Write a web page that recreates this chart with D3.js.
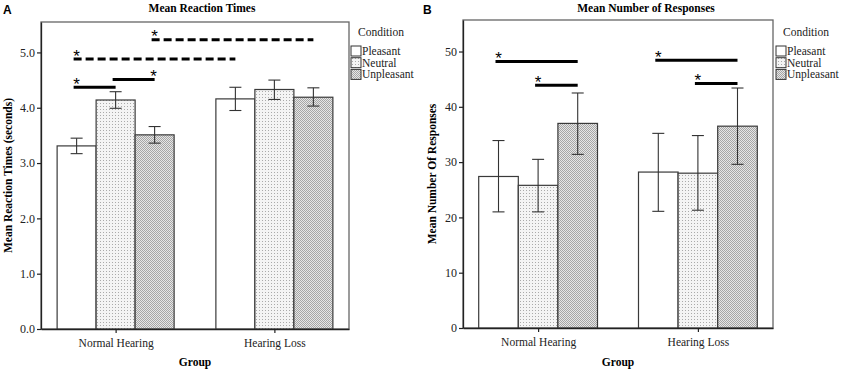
<!DOCTYPE html>
<html><head><meta charset="utf-8">
<script src="https://cdn.jsdelivr.net/npm/d3@7"></script>
<style>body{margin:0;background:#fff}svg{display:block}</style>
</head><body>
<svg id="c" width="843" height="372"></svg>
<script>
const groups = ["Normal Hearing", "Hearing Loss"];
const conditions = ["Pleasant", "Neutral", "Unpleasant"];

// Panel A: Mean Reaction Times (seconds)
const rtMean = [[3.31, 4.14, 3.51], [4.16, 4.33, 4.19]];
const rtLow  = [[3.17, 3.99, 3.36], [3.95, 4.15, 4.03]];
const rtHigh = [[3.45, 4.29, 3.66], [4.37, 4.50, 4.36]];
const rtTicks = [0, 1, 2, 3, 4, 5];
// significance: [groupFrom, condFrom, groupTo, condTo, y, dashed, starSide]
const rtSig = [
  [0, 0, 0, 1, 4.37, false, "left"],
  [0, 1, 0, 2, 4.51, false, "right"],
  [0, 0, 1, 0, 4.88, true, "left"],
  [0, 2, 1, 2, 5.23, true, "left"]
];

// Panel B: Mean Number of Responses
const nrMean = [[27.4, 25.8, 37.0], [28.2, 28.0, 36.5]];
const nrLow  = [[21.0, 21.0, 31.4], [21.1, 21.3, 29.6]];
const nrHigh = [[33.9, 30.5, 42.5], [35.2, 34.8, 43.4]];
const nrTicks = [0, 10, 20, 30, 40, 50];
const nrSig = [
  [0, 0, 0, 2, 48.2, false, "left"],
  [0, 1, 0, 2, 43.9, false, "left"],
  [1, 0, 1, 2, 48.4, false, "left"],
  [1, 1, 1, 2, 44.2, false, "left"]
];

const svg = d3.select("#c");
const serif = "'Liberation Serif', 'Times New Roman', serif";
const defs = svg.append("defs");

// Neutral: light dotted pattern
const pN = defs.append("pattern").attr("id", "pNeutral").attr("patternUnits", "userSpaceOnUse")
  .attr("width", 3).attr("height", 3);
pN.append("rect").attr("width", 3).attr("height", 3).attr("fill", "#f4f4f4");
pN.append("rect").attr("x", 1).attr("y", 1).attr("width", 1).attr("height", 1).attr("fill", "#aaaaaa");
// Unpleasant: checker pattern
const pU = defs.append("pattern").attr("id", "pUnpleasant").attr("patternUnits", "userSpaceOnUse")
  .attr("width", 2).attr("height", 2);
pU.append("rect").attr("width", 2).attr("height", 2).attr("fill", "#e6e6e6");
pU.append("rect").attr("width", 1).attr("height", 1).attr("fill", "#a6a6a6");
pU.append("rect").attr("x", 1).attr("y", 1).attr("width", 1).attr("height", 1).attr("fill", "#a6a6a6");

const fills = ["#ffffff", "url(#pNeutral)", "url(#pUnpleasant)"];

function panel(cfg) {
  const g = svg.append("g");
  const x0 = d3.scalePoint().domain(groups).range([cfg.left, cfg.right]).padding(0.47);
  const x1 = d3.scaleBand().domain(conditions).range([-cfg.bw * 1.5, cfg.bw * 1.5]);
  const y = d3.scaleLinear().domain([0, cfg.ymax]).range([cfg.bottom, cfg.top]);

  // frame
  g.append("rect").attr("x", cfg.left).attr("y", cfg.top)
    .attr("width", cfg.right - cfg.left).attr("height", cfg.bottom - cfg.top)
    .attr("fill", "none").attr("stroke", "#666").attr("stroke-width", 1.3);

  // bars
  groups.forEach((grp, gi) => {
    conditions.forEach((c, ci) => {
      const bx = x0(grp) + x1(c);
      g.append("rect").attr("x", bx).attr("y", y(cfg.mean[gi][ci]))
        .attr("width", x1.bandwidth()).attr("height", cfg.bottom - y(cfg.mean[gi][ci]))
        .attr("fill", fills[ci]).attr("stroke", "#3a3a3a").attr("stroke-width", 1.2);
    });
  });
  // error bars
  groups.forEach((grp, gi) => {
    conditions.forEach((c, ci) => {
      const cx = x0(grp) + x1(c) + x1.bandwidth() / 2;
      const yl = y(cfg.low[gi][ci]), yh = y(cfg.high[gi][ci]);
      g.append("line").attr("x1", cx).attr("x2", cx).attr("y1", yl).attr("y2", yh)
        .attr("stroke", "#333").attr("stroke-width", 1.1);
      [yl, yh].forEach(yy => g.append("line").attr("x1", cx - 6).attr("x2", cx + 6)
        .attr("y1", yy).attr("y2", yy).attr("stroke", "#333").attr("stroke-width", 1.1));
    });
  });

  // axes
  const ya = g.append("g").attr("transform", `translate(${cfg.left},0)`)
    .call(d3.axisLeft(y).tickValues(cfg.ticks).tickFormat(cfg.fmt).tickSize(4).tickSizeOuter(0));
  ya.attr("font-family", serif);
  ya.select(".domain").attr("stroke", "#222").attr("stroke-width", 1.3);
  ya.selectAll(".tick line").attr("stroke", "#222").attr("stroke-width", 1.2);
  ya.selectAll("text").attr("font-family", serif).attr("font-size", 12).attr("fill", "#222").attr("dx", 1);
  const xa = g.append("g").attr("transform", `translate(0,${cfg.bottom})`)
    .call(d3.axisBottom(x0).tickSize(4).tickSizeOuter(0));
  xa.attr("font-family", serif);
  xa.select(".domain").attr("stroke", "#222").attr("stroke-width", 1.3);
  xa.selectAll(".tick line").attr("stroke", "#222").attr("stroke-width", 1.2);
  xa.selectAll("text").attr("font-family", serif).attr("font-size", 11.5).attr("fill", "#222")
    .attr("dy", "0.95em");

  // significance lines
  cfg.sig.forEach(s => {
    const xa1 = x0(groups[s[0]]) + x1(conditions[s[1]]) + x1.bandwidth() / 2 - 3;
    const xa2 = x0(groups[s[2]]) + x1(conditions[s[3]]) + x1.bandwidth() / 2;
    const yy = y(s[4]);
    g.append("line").attr("x1", xa1).attr("x2", xa2).attr("y1", yy).attr("y2", yy)
      .attr("stroke", "#000").attr("stroke-width", 3)
      .attr("stroke-dasharray", s[5] ? "8,4" : null);
    g.append("text").attr("x", s[6] === "left" ? xa1 + 3 : xa2 - 1).attr("y", yy + 2.5)
      .attr("text-anchor", "middle").attr("font-family", "'Liberation Sans', Arial, sans-serif")
      .attr("font-size", 17).attr("fill", "#000").text("*");
  });

  // titles
  svg.append("text").attr("x", cfg.panelX).attr("y", 14).attr("font-family", "'Liberation Sans', Arial, sans-serif")
    .attr("font-weight", "bold").attr("font-size", 12).text(cfg.letter);
  svg.append("text").attr("x", cfg.titleX).attr("y", 12).attr("text-anchor", "middle")
    .attr("font-family", serif).attr("font-weight", "bold").attr("font-size", 11.5).text(cfg.title);
  svg.append("text").attr("transform", `translate(${cfg.yLabelX},${(cfg.top + cfg.bottom) / 2}) rotate(-90)`)
    .attr("text-anchor", "middle").attr("font-family", serif).attr("font-weight", "bold")
    .attr("font-size", 11.5).text(cfg.ylabel);
  svg.append("text").attr("x", (cfg.left + cfg.right) / 2).attr("y", 366).attr("text-anchor", "middle")
    .attr("font-family", serif).attr("font-weight", "bold").attr("font-size", 11.5).text("Group");

  // legend
  const lg = svg.append("g");
  lg.append("text").attr("x", cfg.legX + 30).attr("y", 36).attr("text-anchor", "middle")
    .attr("font-family", serif).attr("font-size", 11.5).attr("fill", "#222").text("Condition");
  conditions.forEach((c, ci) => {
    const yy = 46 + ci * 11.7;
    lg.append("rect").attr("x", cfg.legX).attr("y", yy).attr("width", 10).attr("height", 10)
      .attr("fill", fills[ci]).attr("stroke", "#333").attr("stroke-width", 1);
    lg.append("text").attr("x", cfg.legX + 11).attr("y", yy + 9).attr("font-family", serif)
      .attr("font-size", 11.5).attr("fill", "#222").text(c);
  });
}

panel({
  left: 41, right: 349, top: 22, bottom: 329, ymax: 5.55, bw: 39,
  mean: rtMean, low: rtLow, high: rtHigh, ticks: rtTicks, fmt: d3.format(".1f"), sig: rtSig,
  letter: "A", panelX: 3, title: "Mean Reaction Times", titleX: 202,
  ylabel: "Mean Reaction Times (seconds)", yLabelX: 12, legX: 351
});
panel({
  left: 463, right: 773, top: 20, bottom: 328, ymax: 55.7, bw: 39.6,
  mean: nrMean, low: nrLow, high: nrHigh, ticks: nrTicks, fmt: d3.format("d"), sig: nrSig,
  letter: "B", panelX: 423, title: "Mean Number of Responses", titleX: 646,
  ylabel: "Mean Number Of Responses", yLabelX: 436, legX: 776
});
</script>
</body></html>
